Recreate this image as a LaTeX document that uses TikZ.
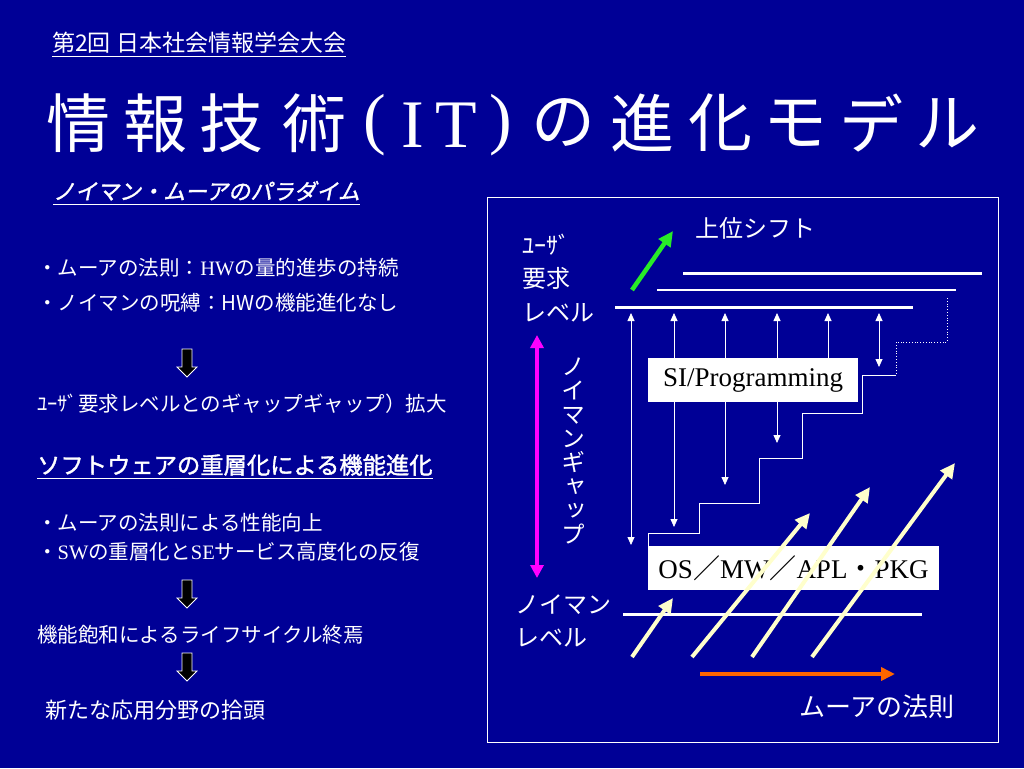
\documentclass[tikz,border=0pt]{standalone}
\usepackage{fontspec}
\setmainfont{Liberation Serif}
\newfontfamily\jp{Noto Sans CJK JP}
\newfontfamily\jpb[FakeBold=1.5]{Noto Sans CJK JP}
\newfontfamily\jpbi[FakeBold=1.5,FakeSlant=0.2]{Noto Sans CJK JP}
\newfontfamily\jpv[RawFeature=+vert]{Noto Sans CJK JP}
\usetikzlibrary{arrows.meta}

\definecolor{slidebg}{RGB}{0,0,150}
\definecolor{cream}{RGB}{255,255,204}
\definecolor{shiftgreen}{RGB}{40,235,40}
\definecolor{mooreorange}{RGB}{255,102,0}
\definecolor{gapmagenta}{RGB}{255,0,255}

\tikzset{
  jtext/.style={text=white, inner sep=0pt, font=\jp\fontsize{20.5}{24}\selectfont},
  bodyline/.style={jtext, anchor=west},
  lbl/.style={text=white, inner sep=0pt, font=\jp\fontsize{24}{28}\selectfont},
  titlechar/.style={text=white, inner sep=0pt, font=\jp\fontsize{64}{70}\selectfont},
  titleserif/.style={text=white, inner sep=0pt, font=\rmfamily\fontsize{68}{70}\selectfont},
  level/.style={white, line width=3pt},
  thinlevel/.style={white, line width=1.5pt},
  stairs/.style={white, line width=0.8pt},
  gaparrow/.style={white, line width=0.8pt, {Triangle[length=8pt,width=7pt]}-{Triangle[length=8pt,width=7pt]}},
  layerbox/.style={fill=white, text=black, inner sep=0pt, font=\rmfamily\fontsize{27}{32}\selectfont},
  moorearrow/.style={cream, line width=4pt, -{Triangle[length=15pt,width=14pt]}},
  downblock/.pic={\draw[fill=black, draw=white, line width=0.8pt]
    (-5,0) -- (-5,18) -- (-10,18) -- (0,28) -- (10,18) -- (5,18) -- (5,0) -- cycle;}
}

\begin{document}
\begin{tikzpicture}[x=1pt, y=-1pt]
  \useasboundingbox (0,0) rectangle (1024,768);
  \fill[slidebg] (0,0) rectangle (1024,768);

  % heading and title
  \node[jtext, anchor=west, font=\jp\fontsize{23}{26}\selectfont] (conf) at (52,43) {第2回 日本社会情報学会大会};
  \draw[white, line width=1pt] ([yshift=-3pt]conf.south west) -- ([yshift=-3pt]conf.south east);
  \foreach \ch/\cx in {情/78, 報/155, 技/231, 術/314, の/563, 進/642, 化/720, モ/795, デ/871, ル/947}
    \node[titlechar] (t\cx) at (\cx,123) {\ch};
  \node[titleserif] (lpar) at (375,125) {(};
  \node[titleserif] (itI) at (413,125) {I};
  \node[titleserif] (itT) at (456,125) {T};
  \node[titleserif] (rpar) at (501,125) {)};

  % left column
  \node[jtext, anchor=west, font=\jpbi\fontsize{22}{26}\selectfont] (paradigm) at (53,191) {ノイマン・ムーアのパラダイム};
  \draw[white, line width=1pt] ([yshift=-3pt]paradigm.south west) -- ([yshift=-3pt]paradigm.south east);
  \node[bodyline] (law) at (37,268) {・ムーアの法則：{\rmfamily HW}の量的進歩の持続};
  \node[bodyline] (curse) at (37,303) {・ノイマンの呪縛：HWの機能進化なし};
  \pic at (187,349) {downblock};
  \node[bodyline] (gapwide) at (37,404) {ﾕｰｻﾞ要求レベルとのギャップギャップ）拡大};
  \node[jtext, anchor=west, font=\jpb\fontsize{23.3}{26}\selectfont] (layering) at (37,465) {ソフトウェアの重層化による機能進化};
  \draw[white, line width=1pt] ([yshift=-3pt]layering.south west) -- ([yshift=-3pt]layering.south east);
  \node[bodyline] (perf) at (37,523) {・ムーアの法則による性能向上};
  \node[bodyline] (repeat) at (37,552) {・{\rmfamily SW}の重層化と{\rmfamily SE}サービス高度化の反復};
  \pic at (187,580) {downblock};
  \node[bodyline] (saturate) at (37,635) {機能飽和によるライフサイクル終焉};
  \pic at (187,653) {downblock};
  \node[bodyline, font=\jp\fontsize{22}{26}\selectfont] (newfield) at (45,710) {新たな応用分野の拾頭};

  % right diagram
  \draw[white, line width=1pt] (487,197) rectangle (998,742);
  \node[lbl, anchor=west] (user1) at (522,245) {ﾕｰｻﾞ};
  \node[lbl, anchor=west] (user2) at (522,278) {要求};
  \node[lbl, anchor=west] (user3) at (522,313) {レベル};
  \node[lbl] (shift) at (755,228) {上位シフト};
  \node[lbl, anchor=west] (neu1) at (515,605) {ノイマン};
  \node[lbl, anchor=west] (neu2) at (515,638) {レベル};
  \node[lbl, font=\jp\fontsize{26}{30}\selectfont] (moore) at (877,707) {ムーアの法則};
  \node[lbl, align=center, font=\jpv\fontsize{24}{24}\selectfont] (gap) at (573,451) {ノ\\イ\\マ\\ン\\ギ\\ャ\\ッ\\プ};

  \draw[level] (683,273) -- (982,273);
  \draw[thinlevel] (657,290) -- (956,290);
  \draw[level] (615,307) -- (913,307);
  \draw[level] (623,614) -- (922,614);

  \draw[stairs, dotted] (947,298) -- (947,342) -- (896,342) -- (896,375);
  \draw[stairs] (896,375) -- (862,375) -- (862,413) -- (802,413) -- (802,458) -- (759,458)
    -- (759,503) -- (699,503) -- (699,533) -- (648,533) -- (648,547);

  \foreach \i/\ax/\ay in {1/631/545, 2/674/527, 3/725/485, 4/777/443, 5/828/400, 6/879/367}{
    \coordinate (gt\i) at (\ax,313);
    \coordinate (gb\i) at (\ax,\ay);
    \draw[gaparrow] (gt\i) -- (gb\i);
  }

  \node[layerbox, minimum width=210pt, minimum height=44pt] (si) at (753,380) {SI/Programming};
  \node[layerbox, minimum width=291pt, minimum height=44pt] (os) at (793.5,568) {OS{\jp ／}MW{\jp ／}APL{\jp ・}PKG};

  \coordinate (g1) at (632,657); \coordinate (h1) at (673,598);
  \coordinate (g2) at (692,657); \coordinate (h2) at (810,513);
  \coordinate (g3) at (752,657); \coordinate (h3) at (870,487);
  \coordinate (g4) at (812,657); \coordinate (h4) at (955,463);
  \foreach \i in {1,...,4}
    \draw[moorearrow] (g\i) -- (h\i);

  \coordinate (gs) at (632,290); \coordinate (ge) at (673,231);
  \draw[shiftgreen, line width=4.5pt, -{Triangle[length=15pt,width=14pt]}] (gs) -- (ge);
  \coordinate (ms) at (700,674); \coordinate (me) at (895,674);
  \draw[mooreorange, line width=4pt, -{Triangle[length=14pt,width=13pt]}] (ms) -- (me);
  \coordinate (pt) at (537,335); \coordinate (pb) at (537,578);
  \draw[gapmagenta, line width=4pt, {Triangle[length=13pt,width=13pt]}-{Triangle[length=13pt,width=13pt]}] (pt) -- (pb);
\end{tikzpicture}
\end{document}
